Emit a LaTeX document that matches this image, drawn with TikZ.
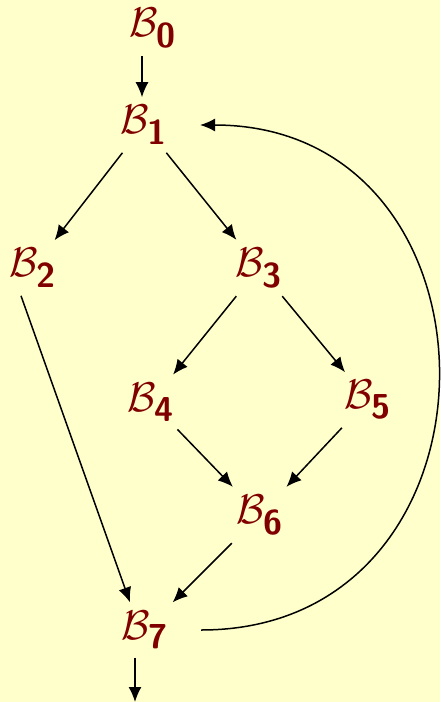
\documentclass[tikz,border=0pt]{standalone}
\usetikzlibrary{arrows.meta,positioning}
\definecolor{paper}{HTML}{FFFFCC}
\definecolor{blkred}{HTML}{800000}
\newcommand{\blk}[1]{$\mathcal{B}_{\mbox{\LARGE\sffamily\bfseries #1}}$}

\begin{document}
\begin{tikzpicture}[x=0.5pt,y=-0.5pt,>={Latex[length=7.5pt,width=6.5pt]},
  blk/.style={text=blkred,font=\huge,inner sep=4pt},
  edge/.style={->,line width=0.75pt}]
\fill[paper] (0,0) rectangle (440,702);
\useasboundingbox (0,0) rectangle (440,702);
\node (b0) [blk,inner sep=1pt] at (153,28) {\blk{0}};
\node (b1) [blk] at (144,125) {\blk{1}};
\node (b2) [blk] at (33,268) {\blk{2}};
\node (b3) [blk] at (259,268) {\blk{3}};
\node (b4) [blk] at (151,402) {\blk{4}};
\node (b5) [blk] at (368,400) {\blk{5}};
\node (b6) [blk] at (260,515) {\blk{6}};
\node (b7) [blk] at (145,630) {\blk{7}};
\coordinate (exit) at (135,702);
\draw[edge] ([xshift=-5.5pt,yshift=-3pt]b0.south) -- ([xshift=-1pt]b1.north);
\draw[edge] (b1) -- (b2);
\draw[edge] (b1) -- (b3);
\draw[edge] ([xshift=-6pt]b2.south) -- ([xshift=-7.5pt]b7.north);
\draw[edge] (b3) -- (b4);
\draw[edge] (b3) -- (b5);
\draw[edge] (b4) -- (b6);
\draw[edge] (b5) -- (b6);
\draw[edge] (b6) -- (b7);
\draw[edge] ([xshift=-5pt]b7.south) -- (exit);
\draw[edge] ([xshift=12pt]b7.east) to[out=0,in=0,looseness=1.6] ([xshift=12pt]b1.east);
\end{tikzpicture}
\end{document}
